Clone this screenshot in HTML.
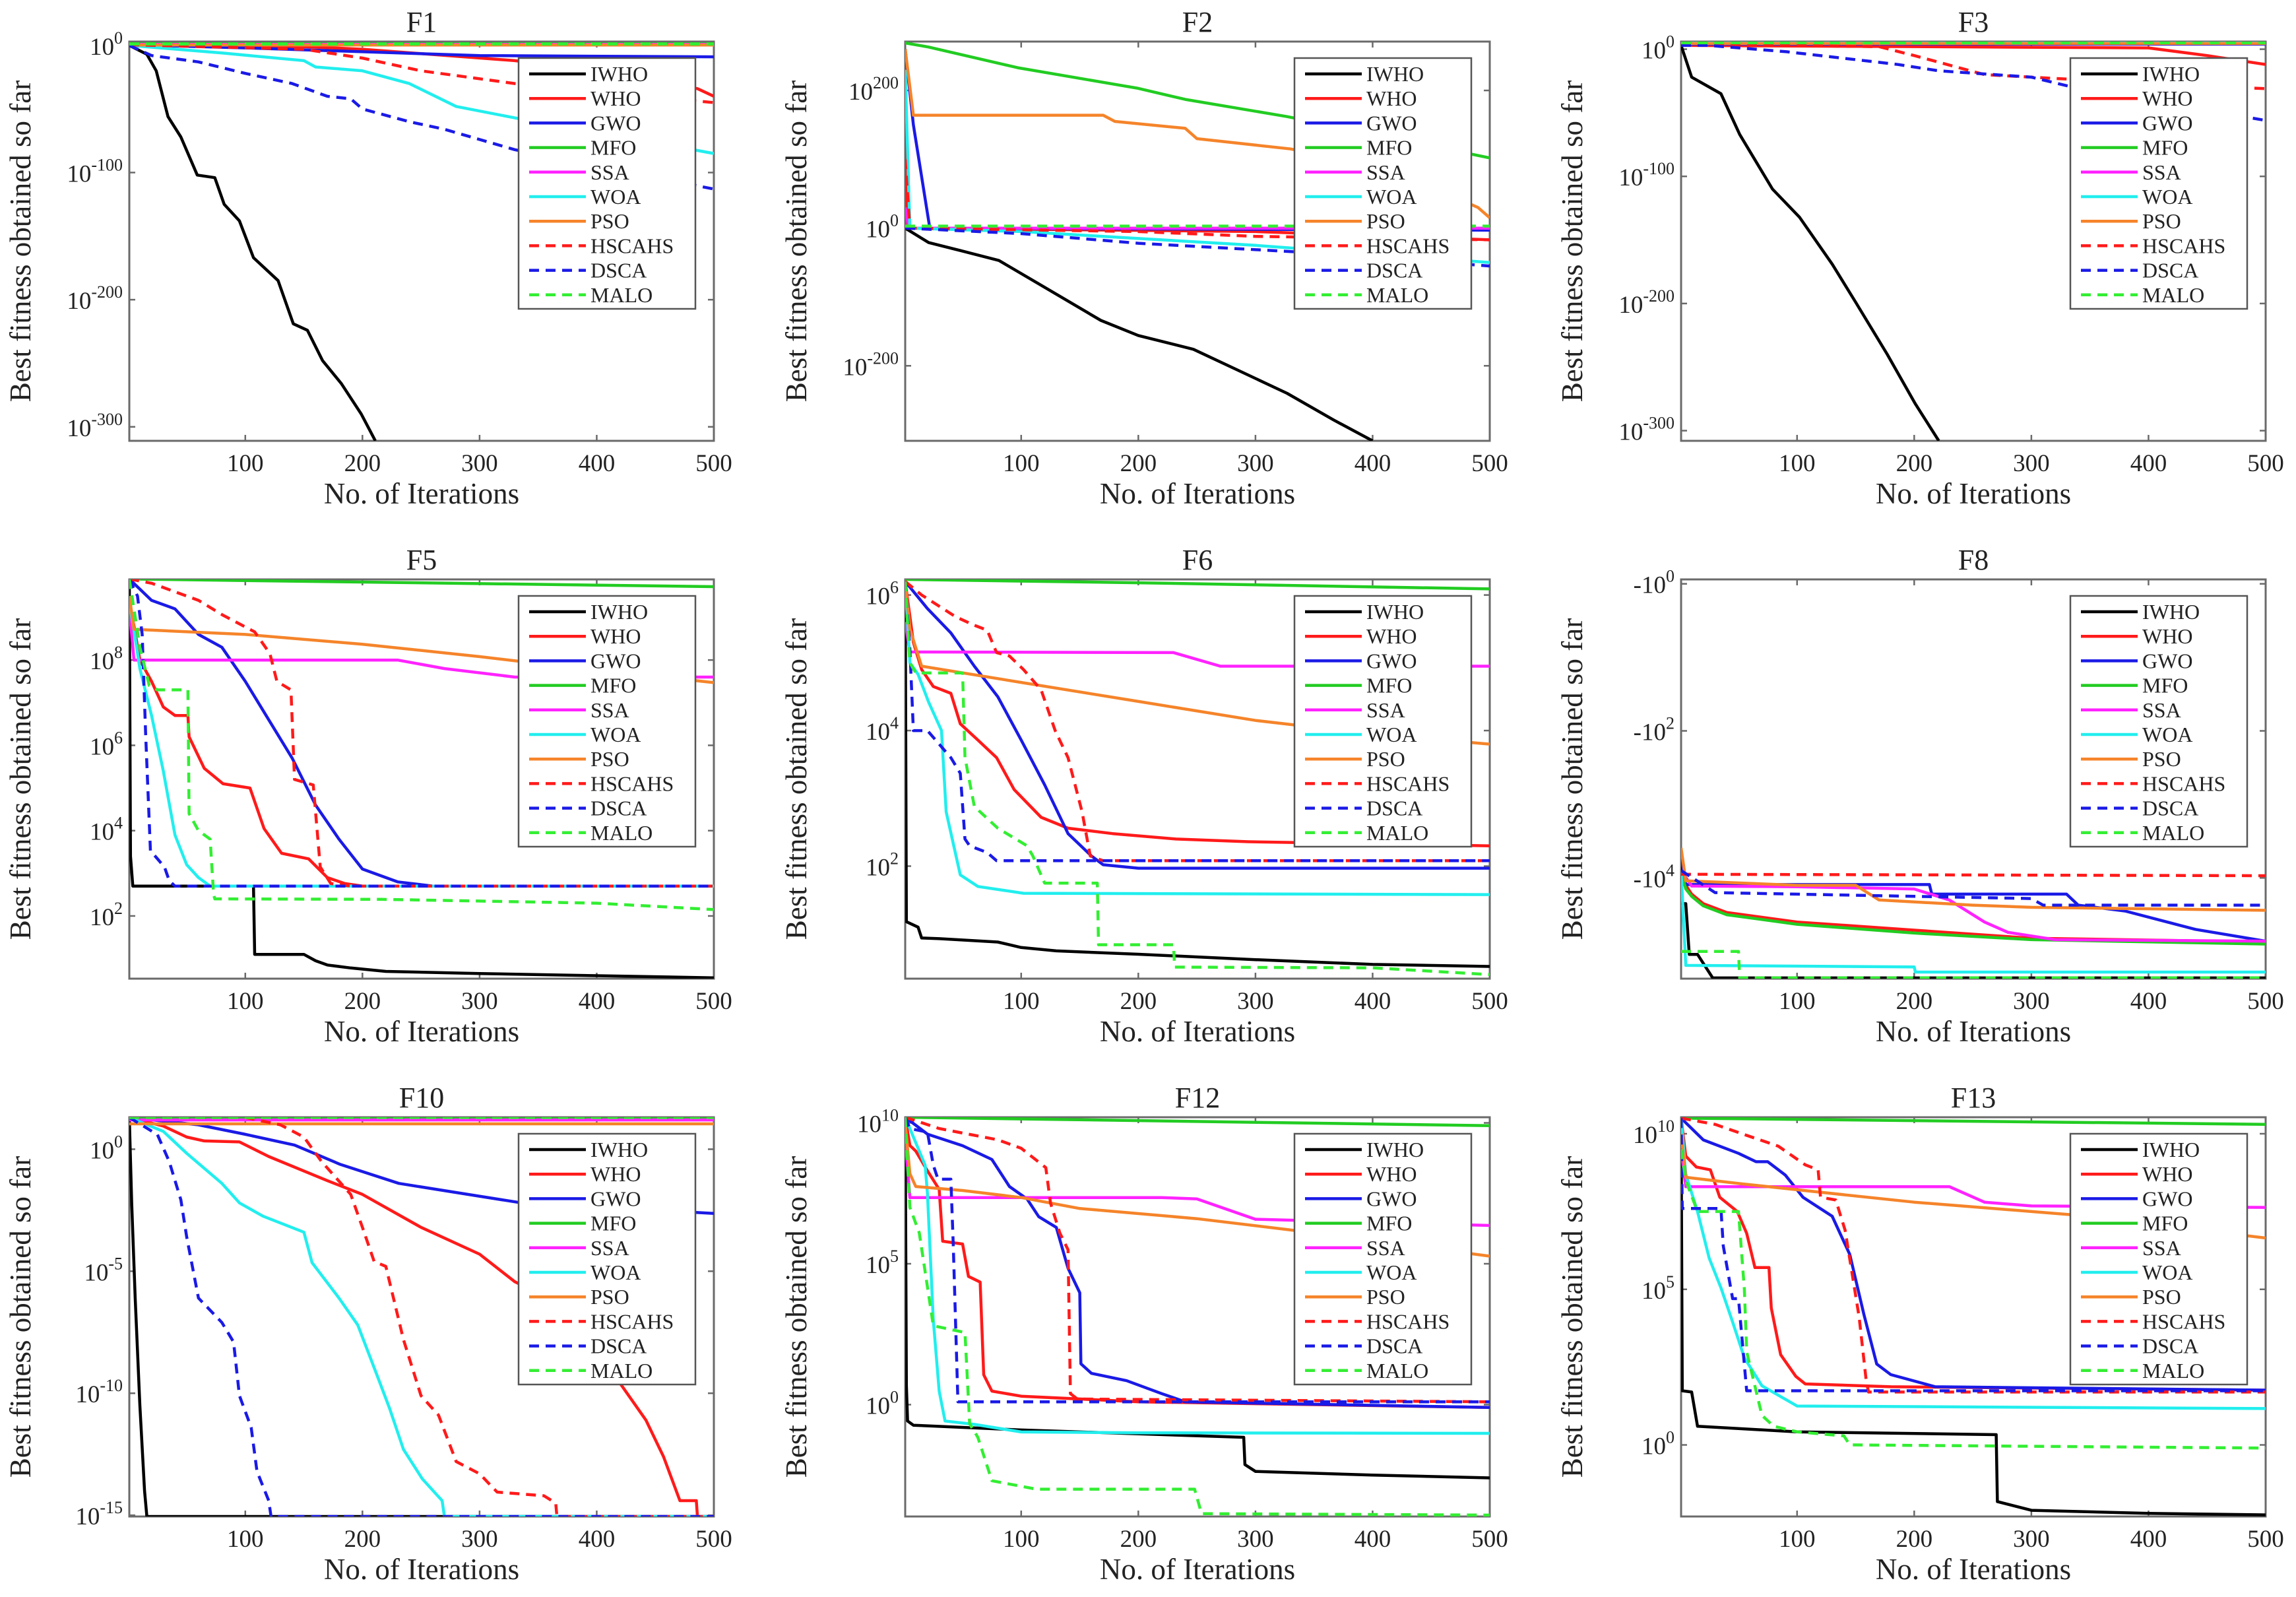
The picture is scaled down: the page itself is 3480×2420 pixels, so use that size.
<!DOCTYPE html>
<html><head><meta charset="utf-8"><title>Convergence curves</title>
<style>
html,body{margin:0;padding:0;background:#fff;}
svg{display:block;font-family:"Liberation Serif","Times New Roman",serif;}
</style></head>
<body>
<svg id="fig" width="3480" height="2420" viewBox="0 0 3480 2420" xmlns="http://www.w3.org/2000/svg">
<rect x="0" y="0" width="3480" height="2420" fill="#fff"/>
</svg>
<script>
// ===== data: [iteration, log10 value] =====
const seriesNames = ["IWHO","WHO","GWO","MFO","SSA","WOA","PSO","HSCAHS","DSCA","MALO"];
const xTicks = [100,200,300,400,500];

const f1IWHO=[[1,0],[16,-7],[24,-20],[34,-56],[45,-72],[59,-102],[74,-104],[82,-125],[95,-138],[107,-167],[128,-185],[141,-219],[153,-224],[166,-248],[182,-266],[199,-290],[211,-311]];
const f1WHO=[[1,0.5],[150,-1],[200,-3],[330,-12],[400,-20],[450,-28],[486,-34],[500,-40]];
const f1GWO=[[1,0.5],[100,-2],[200,-5],[300,-8],[500,-9]];
const f1MFO=[[1,1.3],[500,1.3]];
const f1SSA=[[1,0.8],[500,0.8]];
const f1WOA=[[1,0],[80,-6],[150,-12],[160,-17],[200,-20],[240,-30],[280,-48],[330,-57],[400,-68],[500,-85]];
const f1PSO=[[1,0.3],[500,0.3]];
const f1HSCAHS=[[1,0.5],[150,-3],[200,-10],[250,-20],[330,-30],[400,-36],[500,-45]];
const f1DSCA=[[1,0],[20,-8],[60,-13],[100,-22],[140,-30],[170,-40],[190,-42],[200,-50],[240,-60],[270,-66],[330,-82],[500,-113]];
const f1MALO=[[1,1.1],[500,1.1]];

const f2IWHO=[[1,0],[21,-21],[49,-33],[81,-47],[113,-79],[168,-134],[200,-156],[247,-176],[287,-208],[327,-240],[367,-279],[400,-309]];
const f2WHO=[[1,260],[3,0],[300,-5],[500,-17]];
const f2GWO=[[1,260],[8,150],[22,0],[500,-3]];
const f2MFO=[[1,269],[21,263],[97,233],[200,203],[240,187],[327,162],[420,130],[500,102]];
const f2SSA=[[1,30],[4,0],[500,0]];
const f2WOA=[[1,230],[5,0],[100,-5],[300,-25],[500,-50]];
const f2PSO=[[1,260],[8,164],[170,164],[180,155],[240,145],[250,130],[330,115],[400,90],[470,45],[490,30],[500,15]];
const f2HSCAHS=[[1,100],[5,0],[200,-5],[300,-12],[500,-17]];
const f2DSCA=[[1,0],[100,-8],[200,-22],[340,-35],[500,-55]];
const f2MALO=[[1,3],[500,3]];

const f3IWHO=[[1,3],[10,-22],[35,-35],[51,-67],[79,-110],[102,-132],[130,-169],[150,-199],[177,-240],[201,-279],[221,-308]];
const f3WHO=[[1,3],[400,1],[450,-5],[500,-12]];
const f3GWO=[[1,4],[500,4]];
const f3MFO=[[1,5],[500,5]];
const f3SSA=[[1,4.5],[500,4.5]];
const f3WOA=[[1,5],[500,5]];
const f3PSO=[[1,4.5],[500,4.5]];
const f3HSCAHS=[[1,4],[170,2],[200,-5],[260,-20],[300,-22],[420,-28],[500,-31]];
const f3DSCA=[[1,3],[24,3],[91,-2],[186,-12],[221,-17],[300,-22],[336,-30],[400,-40],[500,-56]];
const f3MALO=[[1,5],[500,5]];

const f5IWHO=[[1,9.8],[2,3.4],[4,2.7],[107,2.7],[108,1.1],[150,1.1],[160,0.95],[170,0.85],[190,0.78],[220,0.7],[300,0.65],[400,0.6],[500,0.55]];
const f5WHO=[[1,9.3],[5,8.8],[10,8.0],[20,7.5],[30,6.9],[40,6.7],[51,6.7],[52,6.2],[65,5.46],[81,5.1],[104,5.0],[116,4.05],[131,3.47],[154,3.34],[170,2.9],[185,2.76],[200,2.7],[500,2.7]];
const f5GWO=[[1,9.9],[20,9.4],[40,9.2],[60,8.6],[80,8.3],[100,7.5],[120,6.6],[140,5.7],[160,4.6],[180,3.8],[200,3.1],[230,2.8],[260,2.7],[500,2.7]];
const f5MFO=[[1,9.9],[500,9.72]];
const f5SSA=[[1,9.2],[5,8.0],[230,8.0],[270,7.8],[330,7.6],[500,7.6]];
const f5WOA=[[1,9.3],[5,8.7],[10,7.8],[20,6.7],[30,5.4],[40,3.9],[50,3.2],[60,2.9],[70,2.7],[500,2.7]];
const f5PSO=[[1,9.5],[5,8.72],[100,8.6],[200,8.37],[300,8.08],[340,7.95],[500,7.47]];
const f5HSCAHS=[[1,9.9],[20,9.8],[60,9.4],[81,9.05],[108,8.66],[121,8.15],[127,7.5],[139,7.3],[142,5.2],[158,5.07],[164,3.15],[173,2.76],[190,2.7],[500,2.7]];
const f5DSCA=[[1,9.9],[8,9.5],[12,8.6],[15,6.2],[19,3.53],[31,3.15],[35,2.83],[40,2.7],[500,2.7]];
const f5MALO=[[1,9.9],[10,8.3],[18,7.4],[25,7.3],[51,7.3],[52,4.4],[60,4.0],[70,3.8],[73,2.5],[74,2.4],[216,2.39],[300,2.35],[400,2.3],[500,2.15]];

const f6IWHO=[[1,6.2],[2,1.18],[12,1.1],[15,0.94],[30,0.93],[80,0.88],[100,0.8],[130,0.75],[200,0.7],[300,0.62],[400,0.55],[500,0.52]];
const f6WHO=[[1,6.2],[8,5.3],[15,4.9],[25,4.65],[40,4.55],[48,4.1],[63,3.86],[79,3.6],[94,3.13],[117,2.72],[140,2.56],[178,2.48],[232,2.4],[294,2.36],[500,2.3]];
const f6GWO=[[1,6.2],[20,5.8],[40,5.44],[60,4.95],[80,4.5],[100,3.86],[120,3.2],[140,2.48],[160,2.15],[170,2.02],[200,1.97],[500,1.97]];
const f6MFO=[[1,6.23],[200,6.18],[500,6.09]];
const f6SSA=[[1,5.6],[5,5.16],[230,5.15],[270,4.95],[500,4.95]];
const f6WOA=[[1,6.2],[5,5.0],[12,4.83],[21,4.42],[32,4.0],[36,2.8],[48,1.87],[63,1.7],[102,1.6],[500,1.58]];
const f6PSO=[[1,6.2],[5,5.5],[15,4.95],[100,4.71],[200,4.43],[300,4.15],[400,3.95],[500,3.8]];
const f6HSCAHS=[[1,6.2],[15,6.0],[44,5.68],[59,5.56],[71,5.48],[79,5.15],[90,5.1],[102,4.9],[117,4.6],[129,4.0],[140,3.6],[152,2.8],[159,2.15],[170,2.08],[500,2.08]];
const f6DSCA=[[1,6.2],[5,5.2],[8,4.0],[20,4.0],[40,3.6],[48,3.37],[52,2.4],[56,2.3],[71,2.2],[79,2.08],[500,2.08]];
const f6MALO=[[1,6.2],[5,5.0],[10,4.85],[50,4.85],[52,3.6],[60,2.88],[80,2.56],[105,2.3],[110,2.15],[120,1.75],[165,1.75],[166,0.84],[230,0.84],[231,0.51],[400,0.5],[500,0.4]];

// F8: values are log10(|f|) of negative fitness
const f8IWHO=[[1,3.8],[2,4.35],[5,4.35],[8,5.04],[15,5.04],[28,5.36],[500,5.36]];
const f8WHO=[[1,3.9],[5,4.1],[10,4.22],[20,4.35],[40,4.47],[100,4.6],[200,4.71],[300,4.82],[500,4.87]];
const f8GWO=[[1,3.7],[5,4.09],[213,4.09],[215,4.22],[330,4.22],[340,4.37],[380,4.45],[440,4.7],[500,4.86]];
const f8MFO=[[1,3.9],[5,4.15],[10,4.25],[20,4.38],[40,4.5],[100,4.63],[200,4.75],[300,4.84],[500,4.9]];
const f8SSA=[[1,3.9],[10,4.11],[100,4.12],[200,4.15],[230,4.3],[260,4.6],[280,4.74],[320,4.84],[500,4.86]];
const f8WOA=[[1,3.9],[5,5.19],[200,5.21],[201,5.28],[500,5.28]];
const f8PSO=[[1,3.59],[5,4.04],[100,4.1],[150,4.1],[170,4.3],[250,4.37],[300,4.4],[500,4.44]];
const f8HSCAHS=[[1,3.95],[500,3.97]];
const f8DSCA=[[1,3.9],[30,4.2],[300,4.28],[310,4.37],[500,4.37]];
const f8MALO=[[1,5.0],[8,5.0],[50,5.0],[51,5.36],[500,5.36]];

const f10IWHO=[[1,1.3],[3,-2.2],[6,-6.1],[10,-10.5],[14,-14],[16,-15.05],[500,-15.05]];
const f10WHO=[[1,1.3],[30,0.95],[50,0.5],[65,0.34],[95,0.3],[120,-0.3],[170,-1.29],[200,-1.85],[250,-3.2],[300,-4.3],[330,-5.43],[350,-5.9],[418,-9.46],[442,-11.1],[457,-12.6],[471,-14.4],[485,-14.4],[486,-15.05],[500,-15.05]];
const f10GWO=[[1,1.3],[60,1.0],[99,0.62],[142,0.17],[181,-0.62],[231,-1.4],[290,-1.85],[336,-2.2],[500,-2.63]];
const f10MFO=[[1,1.3],[500,1.3]];
const f10SSA=[[1,1.2],[500,1.2]];
const f10WOA=[[1,1.3],[30,0.73],[50,-0.17],[80,-1.4],[95,-2.2],[115,-2.74],[150,-3.4],[157,-4.65],[180,-6.1],[196,-7.2],[212,-9.2],[223,-10.6],[235,-12.3],[251,-13.5],[268,-14.4],[270,-15.05],[500,-15.05]];
const f10PSO=[[1,1.04],[500,1.04]];
const f10HSCAHS=[[1,1.3],[100,1.3],[130,1.0],[150,0.5],[165,-0.5],[190,-1.85],[200,-3.2],[210,-4.6],[220,-4.8],[235,-7.8],[250,-10.1],[265,-10.9],[280,-12.8],[300,-13.3],[315,-14.05],[355,-14.2],[365,-14.5],[366,-15.05],[500,-15.05]];
const f10DSCA=[[1,1.3],[25,0.6],[35,-0.5],[45,-2.07],[50,-3.6],[60,-6.1],[80,-7.1],[90,-7.9],[95,-10.1],[105,-11.4],[110,-13.2],[120,-14.4],[122,-15.05],[500,-15.05]];
const f10MALO=[[1,1.3],[500,1.3]];

const f12IWHO=[[1,10.2],[2,0.68],[3,-0.58],[8,-0.73],[100,-0.9],[290,-1.16],[291,-2.13],[300,-2.37],[400,-2.5],[500,-2.6]];
const f12WHO=[[1,10.2],[5,9.2],[10,9.0],[20,8.3],[30,7.64],[33,5.8],[50,5.7],[55,4.55],[65,4.35],[68,1.06],[75,0.48],[100,0.3],[200,0.1],[500,-0.1]];
const f12GWO=[[1,10.2],[20,9.6],[50,9.19],[75,8.7],[90,7.74],[105,7.3],[115,6.67],[130,6.29],[140,4.84],[150,3.97],[151,1.45],[160,1.11],[190,0.85],[220,0.39],[240,0.1],[500,-0.1]];
const f12MFO=[[1,10.2],[500,9.9]];
const f12SSA=[[1,9.5],[5,7.35],[220,7.35],[250,7.3],[300,6.58],[500,6.36]];
const f12WOA=[[1,10.2],[8,9.5],[18,8.5],[20,7.5],[25,3.0],[30,0.48],[35,-0.58],[60,-0.7],[100,-0.97],[200,-1.0],[500,-1.02]];
const f12PSO=[[1,10],[5,8.2],[10,7.74],[50,7.6],[100,7.35],[150,6.96],[250,6.6],[350,6.1],[500,5.27]];
const f12HSCAHS=[[1,10.2],[30,9.8],[80,9.4],[100,9.1],[121,8.41],[125,7.16],[133,6.09],[140,5.5],[142,0.39],[148,0.2],[500,0.1]];
const f12DSCA=[[1,10.2],[5,9.8],[20,9.67],[25,8.5],[29,8.0],[40,8.0],[42,5.7],[46,0.1],[500,0.1]];
const f12MALO=[[1,10.2],[5,7.0],[13,6.1],[25,2.8],[52,2.56],[56,-0.68],[63,-1.16],[75,-2.7],[113,-3.0],[248,-3.0],[254,-3.87],[500,-3.92]];

const f13IWHO=[[1,10.5],[2,1.74],[10,1.7],[15,0.6],[100,0.42],[270,0.33],[271,-1.82],[300,-2.1],[400,-2.2],[500,-2.25]];
const f13WHO=[[1,10.5],[5,9.28],[14,8.93],[26,8.84],[34,7.96],[49,7.5],[57,6.8],[64,5.7],[76,5.7],[78,4.4],[86,2.9],[99,2.2],[107,1.96],[180,1.87],[500,1.76]];
const f13GWO=[[1,10.5],[20,9.8],[50,9.37],[65,9.1],[75,9.1],[90,8.67],[105,7.96],[130,7.35],[145,6.12],[157,4.2],[168,2.6],[180,2.26],[218,1.87],[500,1.76]];
const f13MFO=[[1,10.5],[500,10.3]];
const f13SSA=[[1,9.5],[5,8.3],[230,8.3],[260,7.8],[300,7.68],[500,7.63]];
const f13WOA=[[1,10.5],[5,8.7],[15,7.5],[25,6.0],[35,5.05],[45,3.95],[55,2.8],[70,1.9],[100,1.25],[500,1.17]];
const f13PSO=[[1,10],[5,8.6],[50,8.4],[100,8.2],[200,7.8],[250,7.65],[350,7.35],[400,7.1],[500,6.65]];
const f13HSCAHS=[[1,10.5],[30,10.3],[53,10.0],[84,9.6],[107,9.0],[118,8.84],[120,7.96],[133,7.87],[141,6.9],[153,4.1],[159,2.08],[161,1.7],[500,1.7]];
const f13DSCA=[[1,10.5],[2,7.6],[35,7.6],[37,6.4],[45,4.7],[50,4.7],[57,1.74],[500,1.74]];
const f13MALO=[[1,9.5],[5,8.5],[15,7.5],[25,7.5],[50,7.5],[55,5.0],[57,3.0],[70,0.95],[80,0.6],[100,0.42],[140,0.29],[145,0],[500,-0.1]];

const f1YTicks=[0,-100,-200,-300];
const f2YTicks=[200,0,-200];
const f3YTicks=[0,-100,-200,-300];
const f5YTicks=[2,4,6,8];
const f6YTicks=[2,4,6];
const f8YTicks=[0,2,4];
const f10YTicks=[0,-5,-10,-15];
const f12YTicks=[0,5,10];
const f13YTicks=[0,5,10];

// ===== styling / layout =====
const colors=["#000000","#ff1a1a","#1a1ae6","#22cc22","#ff22ff","#22eeee","#f5842a","#ff1a1a","#1a1ae6","#33ee33"];
const dashed=[false,false,false,false,false,false,false,true,true,true];
const NS="http://www.w3.org/2000/svg";
const svg=document.getElementById('fig');
function mk(tag,attrs,parent){const e=document.createElementNS(NS,tag);for(const k in attrs)e.setAttribute(k,attrs[k]);(parent||svg).appendChild(e);return e;}

const panels=[
 {title:"F1",col:0,row:0,vb:-311,vt:3,ticks:f1YTicks,neg:false,s:[f1IWHO,f1WHO,f1GWO,f1MFO,f1SSA,f1WOA,f1PSO,f1HSCAHS,f1DSCA,f1MALO]},
 {title:"F2",col:1,row:0,vb:-309,vt:271,ticks:f2YTicks,neg:false,s:[f2IWHO,f2WHO,f2GWO,f2MFO,f2SSA,f2WOA,f2PSO,f2HSCAHS,f2DSCA,f2MALO]},
 {title:"F3",col:2,row:0,vb:-308,vt:6,ticks:f3YTicks,neg:false,s:[f3IWHO,f3WHO,f3GWO,f3MFO,f3SSA,f3WOA,f3PSO,f3HSCAHS,f3DSCA,f3MALO]},
 {title:"F5",col:0,row:1,vb:0.53,vt:9.89,ticks:f5YTicks,neg:false,s:[f5IWHO,f5WHO,f5GWO,f5MFO,f5SSA,f5WOA,f5PSO,f5HSCAHS,f5DSCA,f5MALO]},
 {title:"F6",col:1,row:1,vb:0.34,vt:6.23,ticks:f6YTicks,neg:false,s:[f6IWHO,f6WHO,f6GWO,f6MFO,f6SSA,f6WOA,f6PSO,f6HSCAHS,f6DSCA,f6MALO]},
 {title:"F8",col:2,row:1,vb:5.37,vt:-0.06,ticks:f8YTicks,neg:true,s:[f8IWHO,f8WHO,f8GWO,f8MFO,f8SSA,f8WOA,f8PSO,f8HSCAHS,f8DSCA,f8MALO]},
 {title:"F10",col:0,row:2,vb:-15.05,vt:1.31,ticks:f10YTicks,neg:false,s:[f10IWHO,f10WHO,f10GWO,f10MFO,f10SSA,f10WOA,f10PSO,f10HSCAHS,f10DSCA,f10MALO]},
 {title:"F12",col:1,row:2,vb:-3.97,vt:10.2,ticks:f12YTicks,neg:false,s:[f12IWHO,f12WHO,f12GWO,f12MFO,f12SSA,f12WOA,f12PSO,f12HSCAHS,f12DSCA,f12MALO]},
 {title:"F13",col:2,row:2,vb:-2.3,vt:10.53,ticks:f13YTicks,neg:false,s:[f13IWHO,f13WHO,f13GWO,f13MFO,f13SSA,f13WOA,f13PSO,f13HSCAHS,f13DSCA,f13MALO]}
];

const W=886,H=605;
panels.forEach((p,pi)=>{
  const L=196+p.col*1176, T=63+p.row*815;
  const xs=it=>L+(it-1)/499*W;
  const ys=v=>T+(p.vt-v)/(p.vt-p.vb)*H;
  const key=p.title.toLowerCase();
  const g=mk('g',{});
  
  

  const cp=mk('clipPath',{id:'clip'+pi},g);
  mk('rect',{x:L,y:T,width:W,height:H},cp);

  // frame
  const fr=mk('rect',{x:L,y:T,width:W,height:H,fill:'#fff',stroke:'#6a6a6a','stroke-width':3},g);
  
  

  // x ticks
  xTicks.forEach(t=>{
    const x=xs(t);
    mk('line',{x1:x,y1:T+H,x2:x,y2:T+H-9,stroke:'#6a6a6a','stroke-width':2.5},g);
    mk('line',{x1:x,y1:T,x2:x,y2:T+9,stroke:'#6a6a6a','stroke-width':2.5},g);
    const tx=mk('text',{x:x,y:T+H+46,'font-size':37,'text-anchor':'middle',fill:'#222'},g);
    tx.textContent=t;
    
    
  });
  // y ticks
  p.ticks.forEach(t=>{
    const y=ys(t);
    mk('line',{x1:L,y1:y,x2:L+9,y2:y,stroke:'#6a6a6a','stroke-width':2.5},g);
    mk('line',{x1:L+W,y1:y,x2:L+W-9,y2:y,stroke:'#6a6a6a','stroke-width':2.5},g);
    const tx=mk('text',{x:L-10,y:y+14,'font-size':37,'text-anchor':'end',fill:'#222'},g);
    
    
    const b=mk('tspan',{},tx); b.textContent=(p.neg?'-':'')+'10';
    const s=mk('tspan',{dy:-17,'font-size':26},tx); s.textContent=String(t).replace('-','-');
  });

  // series
  const lg=mk('g',{'clip-path':'url(#clip'+pi+')'},g);
  p.s.forEach((arr,si)=>{
    const d=arr.map((pt,i)=>(i?'L':'M')+xs(pt[0]).toFixed(1)+' '+ys(pt[1]).toFixed(1)).join(' ');
    const path=mk('path',{d:d,fill:'none',stroke:colors[si],'stroke-width':4.5,'stroke-linejoin':'round'},lg);
    if(dashed[si]) path.setAttribute('stroke-dasharray','15 10');
    
    
  });

  // legend
  const LX=L+590, LY=T+25;
  const leg=mk('g',{},g);
  
  
  mk('rect',{x:LX,y:LY,width:268,height:380,fill:'#fff',stroke:'#555','stroke-width':2.5},leg);
  seriesNames.forEach((n,si)=>{
    const cy=LY+24+si*37.2;
    const ln=mk('line',{x1:L+606,y1:cy,x2:L+692,y2:cy,stroke:colors[si],'stroke-width':4.5},leg);
    if(dashed[si]) ln.setAttribute('stroke-dasharray','15 10');
    const tx=mk('text',{x:L+699,y:cy+11,'font-size':32,fill:'#222'},leg);
    tx.textContent=n;
    
    
  });

  // title and axis labels
  const tt=mk('text',{x:L+W/2,y:T-15,'font-size':44,'text-anchor':'middle',fill:'#222'},g);
  tt.textContent=p.title;
  
  
  const xl=mk('text',{x:L+W/2,y:T+H+95,'font-size':45,'text-anchor':'middle',fill:'#222'},g);
  xl.textContent='No. of Iterations';
  
  
  const yx=L-150, yy=T+H/2;
  const yl=mk('text',{x:yx,y:yy,'font-size':45,'text-anchor':'middle',fill:'#222',transform:'rotate(-90 '+yx+' '+yy+')'},g);
  yl.textContent='Best fitness obtained so far';
  
  
});
</script>
</body></html>
